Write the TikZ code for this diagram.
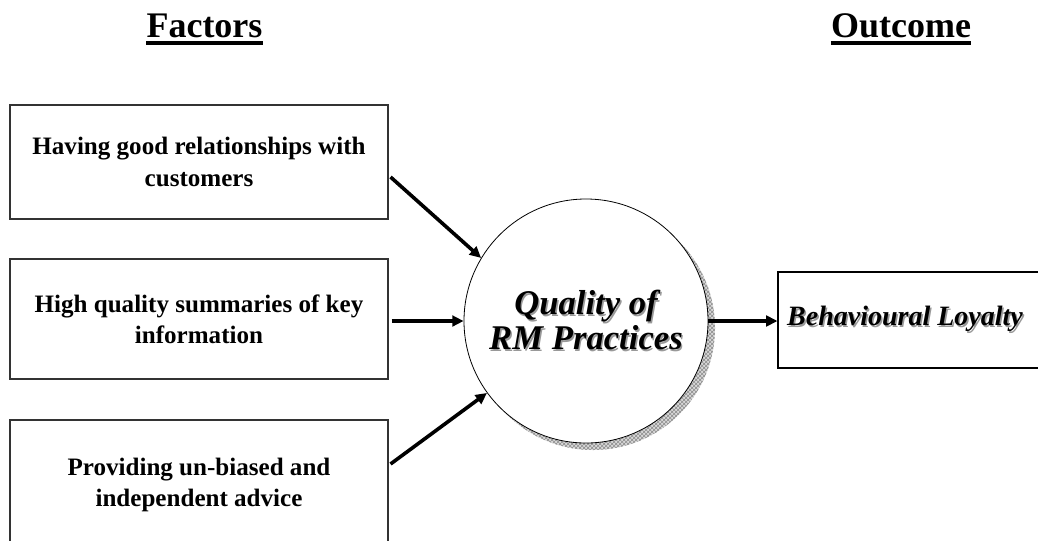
\documentclass[tikz,border=0pt]{standalone}
\usepackage{fontspec}
\setmainfont{Liberation Serif}
\usetikzlibrary{arrows.meta,calc,patterns}
% grey offset copy behind a line of text
\newcommand\shd[1]{\makebox[0pt][l]{\raisebox{-1.1pt}{\hspace{1.1pt}\textcolor{black!40}{#1}}}#1}
\begin{document}
\begin{tikzpicture}[
		x=0.75pt, y=-0.75pt,
		factor/.style={draw=black!80, line width=0.8pt, rectangle, align=center,
			minimum width=378*0.75pt, inner sep=0pt,
			font=\fontsize{18.8}{23.5}\selectfont\bfseries},
		quality/.style={draw, circle, fill=white, line width=0.6pt,
			minimum size=244*0.75pt, inner sep=0pt, align=center,
			font=\fontsize{26}{26}\selectfont\bfseries\itshape},
		outbox/.style={draw, rectangle, line width=0.8pt, inner sep=0pt,
			minimum width=270*0.75pt, minimum height=96*0.75pt,
			font=\fontsize{21}{24}\selectfont\bfseries\itshape},
		title/.style={inner sep=0pt, anchor=base,
			font=\fontsize{27}{30}\selectfont\bfseries},
		uline/.style={line width=2.3pt},
		arr/.style={line width=2.7pt, -{Triangle[length=8.5pt,width=8pt]}},
		shadowfill/.style={fill=black!15}
	]
	\useasboundingbox (0,0) rectangle (1038,540);

	% headings
	\node[title] (fac) at (204.5,37) {Factors};
	\node[title] (outc) at (901,37) {Outcome};
	\draw[uline] ($(fac.base west)+(0,6)$) -- ($(fac.base east)+(0,6)$);
	\draw[uline] ($(outc.base west)+(0,6)$) -- ($(outc.base east)+(0,6)$);

	% factors
	\node[factor, minimum height=114*0.75pt] (b1) at (199,162)
		{Having good relationships with\\customers};
	\node[factor, minimum height=120*0.75pt] (b2) at (199,319)
		{High quality summaries of key\\information};
	\node[factor, minimum height=130*0.75pt] (b3) at (199,485)
		{Providing un-biased and\\independent advice};

	% central circle with its shadow
	\coordinate (qc) at (586,321);
	\fill[shadowfill] ($(qc)+(7,7)$) circle (122);
	\fill[pattern=crosshatch, pattern color=black!45] ($(qc)+(7,7)$) circle (122);
	\node[quality] (q) at (qc) {\shd{Quality of}\\\shd{RM Practices}};

	% outcome
	\node[outbox] (beh) at (913,320) {\hspace*{-12pt}\shd{Behavioural Loyalty}};

	% arrows
	\draw[arr] ($(b1.east)+(2,15)$) -- (q.149);
	\draw[arr] ($(b2.east |- q.west)+(3,0)$) -- (q.west);
	\draw[arr] ($(b3.east)+(2,-21)$) -- (q.216);
	\draw[arr] (q.east) -- (beh.west |- q.east);
\end{tikzpicture}
\end{document}
